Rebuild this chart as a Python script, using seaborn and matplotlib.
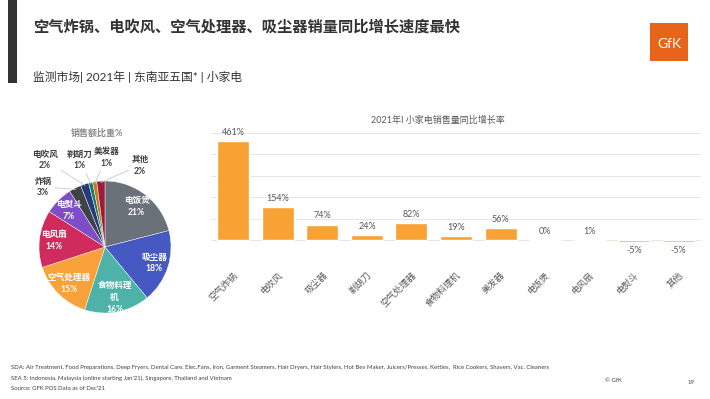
import numpy as np
import pandas as pd
import matplotlib
matplotlib.use("Agg")
import matplotlib.pyplot as plt
from matplotlib.patches import Rectangle
import seaborn as sns

# Data
pie_labels = ["电饭煲", "吸尘器", "食物料理\n机", "空气处理器", "电风扇", "电熨斗",
              "炸锅", "电吹风", "剃胡刀", "美发器", "其他"]
pie_share = [21, 18, 16, 15, 14, 7, 3, 2, 1, 1, 2]
pie_colors = ["#6b7179", "#4659c2", "#4db3a8", "#f9a13a", "#d12b5e", "#7d4ec6",
              "#3d4247", "#27397a", "#1d7a70", "#c47a18", "#9a1d3d"]

bar_cats = ["空气炸锅", "电吹风", "吸尘器", "剃胡刀", "空气处理器", "食物料理机",
            "美发器", "电饭煲", "电风扇", "电熨斗", "其他"]
bar_growth = [461, 154, 74, 24, 82, 19, 56, 0, 1, -5, -5]

sns.set_theme(style="white")
plt.rcParams["font.family"] = ["Lato", "Noto Sans CJK SC", "DejaVu Sans"]

fig = plt.figure(figsize=(7.1, 3.99), dpi=100)
W, H = 710, 399

def fx(px):
    return px / W

def fy(py):
    return 1 - py / H

# Header
fig.add_artist(Rectangle((fx(8), fy(83)), fx(9), 83 / H, transform=fig.transFigure,
                         color="#333333", lw=0))
fig.text(fx(33), fy(27), "空气炸锅、电吹风、空气处理器、吸尘器销量同比增长速度最快",
         fontsize=11, fontweight="bold", color="#333333", va="center", ha="left")
fig.text(fx(33), fy(77), "监测市场| 2021年 | 东南亚五国* | 小家电",
         fontsize=8.5, color="#333333", va="center", ha="left")
fig.add_artist(Rectangle((fx(650), fy(61)), fx(38), 38 / H, transform=fig.transFigure,
                         color="#e8641b", lw=0))
fig.text(fx(669), fy(44), "GfK", fontsize=10, color="white", ha="center", va="center")

# Pie chart
axp = fig.add_axes([fx(39), fy(313), fx(132), 132 / H])
axp.pie(pie_share, colors=pie_colors, startangle=90, counterclock=False,
        wedgeprops=dict(edgecolor="white", linewidth=0.3))
axp.set_xlim(-1, 1)
axp.set_ylim(-1, 1)
axp.set_aspect("equal")
axp.axis("off")
fig.text(fx(97), fy(133), "销售额比重%", fontsize=6.5, fontweight="bold",
         color="#8c8c8c", ha="center", va="center")

cum = np.cumsum([0] + pie_share[:-1])
outside_pos = {6: (-0.94, 0.91), 7: (-0.91, 1.32), 8: (-0.38, 1.32),
               9: (0.03, 1.36), 10: (0.53, 1.24)}
for i, (lab, v) in enumerate(zip(pie_labels, pie_share)):
    mid = (cum[i] + v / 2) / 100 * 2 * np.pi
    dx, dy = np.sin(mid), np.cos(mid)
    txt = f"{lab}\n{v}%"
    if i in outside_pos:
        tx, ty = outside_pos[i]
        axp.annotate(txt, xy=(dx * 0.98, dy * 0.98), xytext=(tx, ty),
                     ha="center", va="center", fontsize=6.2, fontweight="bold",
                     color="#404040", linespacing=1.4,
                     arrowprops=dict(arrowstyle="-", color="#c8c8c8", lw=0.6,
                                     shrinkA=0, shrinkB=0),
                     annotation_clip=False)
    else:
        r = 0.78
        axp.text(dx * r, dy * r, txt, ha="center", va="center", fontsize=6.2,
                 fontweight="bold", color="white", linespacing=1.4)

# Bar chart
axb = fig.add_axes([fx(211), fy(262), fx(490), 129 / H])
df = pd.DataFrame({"cat": bar_cats, "growth": bar_growth})
sns.barplot(data=df, x="cat", y="growth", color="#f8a233", saturation=1,
            width=0.72, ax=axb)
axb.set_ylim(-100, 500)
axb.set_yticks(range(-100, 501, 100))
axb.set_yticklabels([])
axb.yaxis.grid(True, color="#e6e6e6", lw=0.7)
axb.set_axisbelow(True)
for s in axb.spines.values():
    s.set_visible(False)
axb.set_xlabel("")
axb.set_ylabel("")
axb.tick_params(axis="both", length=0)
axb.tick_params(axis="x", pad=6)
for t in axb.get_xticklabels():
    t.set_rotation(45)
    t.set_ha("right")
    t.set_rotation_mode("anchor")
    t.set_fontsize(6.5)
    t.set_color("#595959")
axb.bar_label(axb.containers[0], labels=[f"{v}%" for v in bar_growth],
              padding=3, fontsize=6.5, color="#595959")
fig.text(fx(438), fy(120), "2021年I 小家电销售量同比增长率", fontsize=6.5,
         color="#595959", ha="center", va="center")

# Footer
foot = ["SDA: Air Treatment, Food Preparations, Deep Fryers, Dental Care, Elec.Fans, Iron, "
        "Garment Steamers, Hair Dryers, Hair Stylers, Hot Bev Maker, Juicers/Presses, Kettles,  "
        "Rice Cookers, Shavers, Vac. Cleaners",
        "SEA 5: Indonesia, Malaysia (online starting Jan'21), Singapore, Thailand and Vietnam",
        "Source: GFK POS Data as of Dec'21"]
for k, line in enumerate(foot):
    fig.text(fx(11), fy(368 + 10 * k), line, fontsize=4.35, color="#404040",
             ha="left", va="center")
fig.text(fx(605), fy(380), "© GfK", fontsize=4.3, color="#404040", ha="left", va="center")
fig.text(fx(688), fy(383), "19", fontsize=4.3, color="#404040", ha="left", va="center")

fig.savefig("out.png", dpi=100, facecolor="white")
